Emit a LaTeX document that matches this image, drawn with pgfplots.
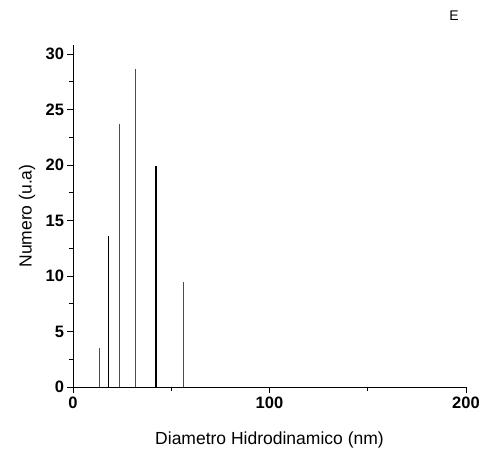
\documentclass[border=0pt]{standalone}
\usepackage{pgfplots}
\pgfplotsset{compat=1.18}
\usepackage{fontspec}
\setmainfont{Liberation Sans}
\begin{document}
\begin{tikzpicture}[x=1bp,y=1bp]
\begin{axis}[
  scale only axis,
  width=393bp, height=342bp,
  xmin=0, xmax=200, ymin=0, ymax=30.8,
  axis x line*=bottom, axis y line*=left,
  axis line style={black, line width=0.8pt, -},
  xtick={0,100,200}, minor xtick={50,150},
  ytick={0,5,10,15,20,25,30}, minor ytick={2.5,7.5,12.5,17.5,22.5,27.5},
  tick align=outside,
  major tick length=5.5bp, minor tick length=3.5bp,
  tick style={black, line width=0.7pt},
  /pgf/number format/assume math mode=true,
  ticklabel style={font=\fontsize{16.5bp}{18bp}\selectfont\bfseries},
  xticklabel style={yshift=-1bp},
  xlabel={Diametro Hidrodinamico (nm)},
  ylabel={Numero (u.a)},
  label style={font=\fontsize{17.5bp}{20bp}\selectfont},
  xlabel style={at={(axis description cs:0.5,0)}, anchor=center, yshift=-53bp},
  ylabel style={at={(axis description cs:0,0.5)}, anchor=center, yshift=46bp},
  clip=false,
]
\addplot[ycomb, no markers, color=black!70, line width=1bp] coordinates {
  (13.4,3.5) (23.6,23.7) (31.7,28.6) (56.2,9.5)
};
\addplot[ycomb, no markers, color=black, line width=1.6bp] coordinates {
  (18.0,13.6) (42.3,19.9)
};
\end{axis}
\path (current axis.south west) ++(-73bp,-74bp) coordinate (bl);
\useasboundingbox (bl) rectangle ++(489bp,461bp);
\node[font=\fontsize{14bp}{16bp}\selectfont] at ([xshift=454bp,yshift=445bp]bl) {E};
\end{tikzpicture}
\end{document}
